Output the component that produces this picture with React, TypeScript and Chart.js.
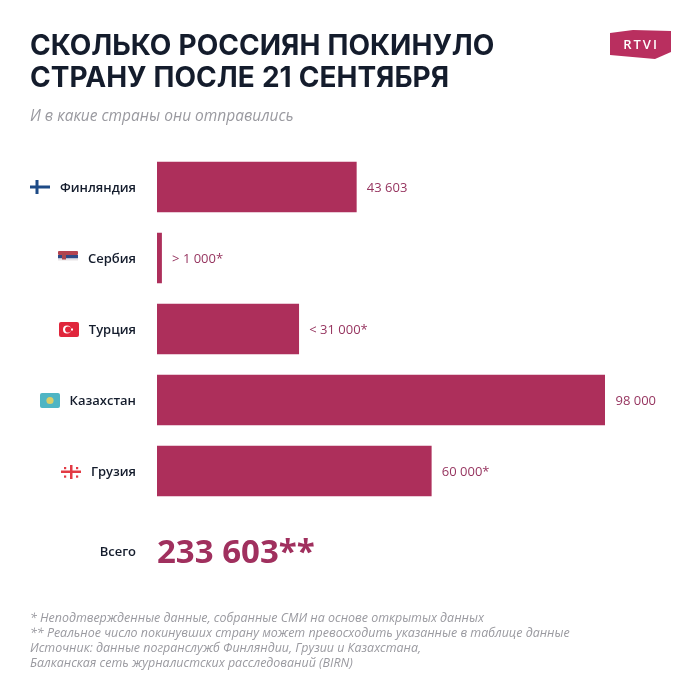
import React, { useEffect, useRef } from "react";
import { Chart, registerables } from "chart.js";

Chart.register(...registerables);

const countries = ["Финляндия", "Сербия", "Турция", "Казахстан", "Грузия"];
const people = [43603, 1000, 31000, 98000, 60000];
const valueLabels = ["43 603", "> 1 000*", "< 31 000*", "98 000", "60 000*"];
const titleLines = ["СКОЛЬКО РОССИЯН ПОКИНУЛО", "СТРАНУ ПОСЛЕ 21 СЕНТЯБРЯ"];
const subtitle = "И в какие страны они отправились";
const totalLabel = "Всего";
const totalValue = "233 603**";
const footnotes = [
  "* Неподтвержденные данные, собранные СМИ на основе открытых данных",
  "** Реальное число покинувших страну может превосходить указанные в таблице данные",
  "Источник: данные погранслужб Финляндии, Грузии и Казахстана,",
  "Балканская сеть журналистских расследований (BIRN)",
];

const BAR = "#ad2f5b";
const VALUE_TEXT = "#96345f";
const TOTAL_TEXT = "#a0305e";
const DARK = "#141c2c";
const GREY = "#9a9aa0";

function rr(c: CanvasRenderingContext2D, x: number, y: number, w: number, h: number, r: number, f: string) {
  c.fillStyle = f;
  c.beginPath();
  c.roundRect(x, y, w, h, r);
  c.fill();
}

function drawFlags(c: CanvasRenderingContext2D) {
  // Finland
  c.fillStyle = "#1d4a86";
  c.fillRect(30, 185.5, 20, 3);
  c.fillRect(35.5, 180, 3, 14);
  // Serbia
  rr(c, 58, 251, 20, 4, 1, "#b5434f");
  c.fillStyle = "#2e4a86";
  c.fillRect(58, 255, 20, 3.5);
  c.fillStyle = "#e8e4e6";
  c.fillRect(58, 258.5, 20, 2);
  c.fillStyle = "#a8484f";
  c.fillRect(62, 253, 4, 6.5);
  // Turkey
  rr(c, 59, 322, 20, 15, 2, "#e0263c");
  c.fillStyle = "#fff";
  c.beginPath();
  c.arc(67, 329.5, 4, 0, Math.PI * 2);
  c.fill();
  c.fillStyle = "#e0263c";
  c.beginPath();
  c.arc(68.2, 329.5, 3.1, 0, Math.PI * 2);
  c.fill();
  c.fillStyle = "#fff";
  c.fillRect(71, 328.5, 2, 2);
  // Kazakhstan
  rr(c, 40, 393, 20, 15, 2, "#4fb5c4");
  c.fillStyle = "#d9cf6a";
  c.beginPath();
  c.arc(50, 400.5, 3.6, 0, Math.PI * 2);
  c.fill();
  // Georgia
  c.fillStyle = "#e23a44";
  c.fillRect(61, 470.5, 20, 2.5);
  c.fillRect(70, 465, 2.5, 14);
  for (const [x, y] of [[64, 467], [76, 467], [64, 475.5], [76, 475.5]]) {
    c.fillRect(x, y, 2.2, 2.2);
  }
}

function drawLogo(c: CanvasRenderingContext2D) {
  c.fillStyle = "#b92f5f";
  c.beginPath();
  c.moveTo(610, 33);
  c.lineTo(633, 30);
  c.lineTo(671, 31);
  c.lineTo(671, 52);
  c.lineTo(655, 59);
  c.lineTo(610, 55);
  c.closePath();
  c.fill();
  c.fillStyle = "#fff";
  c.font = "600 13px 'Open Sans'";
  c.textAlign = "center";
  c.textBaseline = "middle";
  (c as any).letterSpacing = "2px";
  c.fillText("RTVI", 641, 45);
  (c as any).letterSpacing = "0px";
}

const overlay = {
  id: "overlay",
  beforeDraw(chart: Chart) {
    const c = chart.ctx;
    c.save();
    c.fillStyle = "#fff";
    c.fillRect(0, 0, chart.width, chart.height);
    c.restore();
  },
  afterDraw(chart: Chart) {
    const c = chart.ctx;
    c.save();
    c.textBaseline = "alphabetic";
    c.textAlign = "left";
    c.fillStyle = DARK;
    c.font = "700 28px Inter";
    (c as any).wordSpacing = "0.5px";
    c.fillText(titleLines[0], 30, 55);
    c.fillText(titleLines[1], 30, 87);
    (c as any).wordSpacing = "0px";
    c.fillStyle = GREY;
    c.font = "italic 400 15.5px 'Open Sans'";
    c.fillText(subtitle, 30, 121);
    c.font = "italic 400 12.45px 'Open Sans'";
    footnotes.forEach((t, i) => c.fillText(t, 30, 622 + i * 15));

    c.font = "500 13px 'Open Sans'";
    c.fillStyle = VALUE_TEXT;
    c.textBaseline = "middle";
    const meta = chart.getDatasetMeta(0);
    meta.data.forEach((b: any, i: number) => c.fillText(valueLabels[i], b.x + 10.5, b.y + 1.5));

    c.textAlign = "right";
    c.fillStyle = DARK;
    c.font = "600 13px 'Open Sans'";
    c.fillText(totalLabel, 136, 552.5);
    c.textAlign = "left";
    c.fillStyle = TOTAL_TEXT;
    c.font = "700 33px 'Open Sans'";
    c.fillText(totalValue, 157, 554);

    drawFlags(c);
    drawLogo(c);
    c.restore();
  },
};

export default function App() {
  const ref = useRef<HTMLCanvasElement>(null);
  useEffect(() => {
    document.body.style.margin = "0";
    const chart = new Chart(ref.current!, {
      type: "bar",
      data: {
        labels: countries,
        datasets: [{ data: people, backgroundColor: BAR, barThickness: 50, borderWidth: 0 }],
      },
      options: {
        indexAxis: "y",
        animation: false,
        responsive: false,
        devicePixelRatio: 1,
        layout: { padding: { top: 151.5, bottom: 193.5, right: 95, left: 0 } },
        plugins: { legend: { display: false }, tooltip: { enabled: false } },
        scales: {
          x: { display: false, min: 0, max: 98000 },
          y: {
            grid: { display: false, drawTicks: false },
            border: { display: false },
            ticks: {
              color: DARK,
              padding: 21,
              labelOffset: 1,
              font: { family: "'Open Sans'", size: 13, weight: 600 },
            },
            afterFit(axis: any) {
              axis.width = 157;
            },
          },
        },
      },
      plugins: [overlay],
    });
    return () => chart.destroy();
  }, []);
  return <canvas ref={ref} width={700} height={700} style={{ display: "block", width: 700, height: 700 }} />;
}
